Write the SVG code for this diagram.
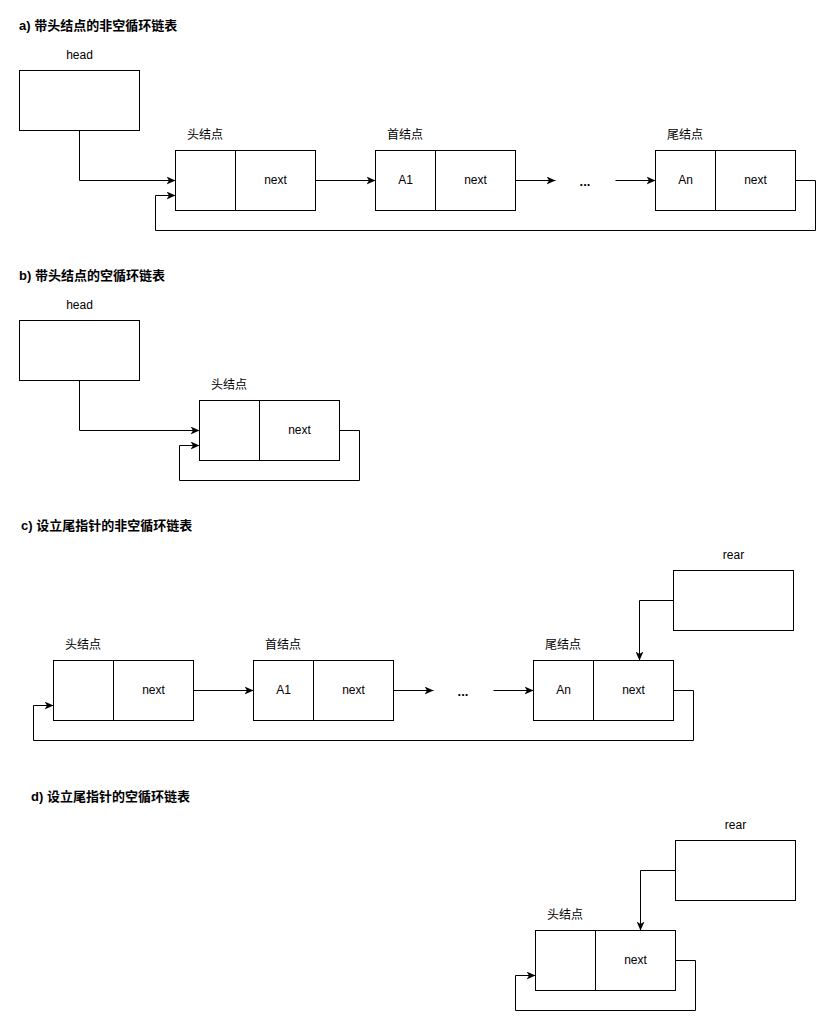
<svg xmlns="http://www.w3.org/2000/svg" width="834" height="1029" viewBox="0 0 834 1029">
<style>
.bg{fill:#ffffff}
.box{fill:#ffffff;stroke:#000000;stroke-width:1}
.ln{fill:none;stroke:#000000;stroke-width:1}
.t{font-family:"Liberation Sans","Noto Sans CJK SC",sans-serif;font-size:12px;fill:#000000;text-anchor:middle;dominant-baseline:central}
.title{font-family:"Liberation Sans","Noto Sans CJK SC",sans-serif;font-size:13px;font-weight:bold;fill:#000000;dominant-baseline:central}
.dots{font-family:"Liberation Sans",sans-serif;font-size:13px;font-weight:bold;fill:#000000;text-anchor:middle;dominant-baseline:central}
</style>
<defs>
<marker id="arr" markerUnits="userSpaceOnUse" viewBox="0 0 9 8" markerWidth="9" markerHeight="8" refX="9" refY="4" orient="auto">
<path d="M0,0 L9,4 L0,8 L2.5,4 Z" fill="#000000"/>
</marker>
</defs>
<rect class="bg" x="0" y="0" width="834" height="1029"/>

<!-- titles -->
<text class="title" x="19" y="25">a) 带头结点的非空循环链表</text>
<text class="title" x="19" y="275">b) 带头结点的空循环链表</text>
<text class="title" x="21" y="525">c) 设立尾指针的非空循环链表</text>
<text class="title" x="31" y="796">d) 设立尾指针的空循环链表</text>

<!-- section a -->
<g id="a-head">
<text class="t" x="79.5" y="55">head</text>
<rect class="box" x="19.5" y="70.5" width="120" height="60"/>
</g>
<g id="a-headnode">
<text class="t" x="205" y="134.5">头结点</text>
<rect class="box" x="175.5" y="150.5" width="140" height="60"/>
<line class="ln" x1="235.5" y1="150.5" x2="235.5" y2="210.5"/>
<text class="t" x="275.5" y="180">next</text>
</g>
<g id="a-first">
<text class="t" x="405" y="134.5">首结点</text>
<rect class="box" x="375.5" y="150.5" width="140" height="60"/>
<line class="ln" x1="435.5" y1="150.5" x2="435.5" y2="210.5"/>
<text class="t" x="405.5" y="180">A1</text>
<text class="t" x="475.5" y="180">next</text>
</g>
<g id="a-dots"><text class="dots" x="585" y="181">...</text></g>
<g id="a-tail">
<text class="t" x="685" y="134.5">尾结点</text>
<rect class="box" x="655.5" y="150.5" width="140" height="60"/>
<line class="ln" x1="715.5" y1="150.5" x2="715.5" y2="210.5"/>
<text class="t" x="685.5" y="180">An</text>
<text class="t" x="755.5" y="180">next</text>
</g>

<!-- section b -->
<g id="b-head">
<text class="t" x="79.5" y="305">head</text>
<rect class="box" x="19.5" y="320.5" width="120" height="60"/>
</g>
<g id="b-headnode">
<text class="t" x="229" y="384.5">头结点</text>
<rect class="box" x="199.5" y="400.5" width="140" height="60"/>
<line class="ln" x1="259.5" y1="400.5" x2="259.5" y2="460.5"/>
<text class="t" x="299.5" y="430">next</text>
</g>

<!-- section c -->
<g id="c-rear">
<text class="t" x="733.5" y="555">rear</text>
<rect class="box" x="673.5" y="570.5" width="120" height="60"/>
</g>
<g id="c-headnode">
<text class="t" x="83" y="644.5">头结点</text>
<rect class="box" x="53.5" y="660.5" width="140" height="60"/>
<line class="ln" x1="113.5" y1="660.5" x2="113.5" y2="720.5"/>
<text class="t" x="153.5" y="690">next</text>
</g>
<g id="c-first">
<text class="t" x="283" y="644.5">首结点</text>
<rect class="box" x="253.5" y="660.5" width="140" height="60"/>
<line class="ln" x1="313.5" y1="660.5" x2="313.5" y2="720.5"/>
<text class="t" x="283.5" y="690">A1</text>
<text class="t" x="353.5" y="690">next</text>
</g>
<g id="c-dots"><text class="dots" x="463" y="691">...</text></g>
<g id="c-tail">
<text class="t" x="563" y="644.5">尾结点</text>
<rect class="box" x="533.5" y="660.5" width="140" height="60"/>
<line class="ln" x1="593.5" y1="660.5" x2="593.5" y2="720.5"/>
<text class="t" x="563.5" y="690">An</text>
<text class="t" x="633.5" y="690">next</text>
</g>

<!-- section d -->
<g id="d-rear">
<text class="t" x="735.5" y="825">rear</text>
<rect class="box" x="675.5" y="840.5" width="120" height="60"/>
</g>
<g id="d-headnode">
<text class="t" x="565" y="914.5">头结点</text>
<rect class="box" x="535.5" y="930.5" width="140" height="60"/>
<line class="ln" x1="595.5" y1="930.5" x2="595.5" y2="990.5"/>
<text class="t" x="635.5" y="960">next</text>
</g>

<!-- connectors -->
<g id="connectors">
<path class="ln" d="M79.5,130.5 V180.5 H175.5" marker-end="url(#arr)"/>
<path class="ln" d="M315.5,180.5 H375.5" marker-end="url(#arr)"/>
<path class="ln" d="M515.5,180.5 H555.5" marker-end="url(#arr)"/>
<path class="ln" d="M615.5,180.5 H655.5" marker-end="url(#arr)"/>
<path class="ln" d="M795.5,180.5 H815.5 V230.5 H155.5 V195.5 H175.5" marker-end="url(#arr)"/>

<path class="ln" d="M79.5,380.5 V430.5 H199.5" marker-end="url(#arr)"/>
<path class="ln" d="M339.5,430.5 H359.5 V480.5 H179.5 V445.5 H199.5" marker-end="url(#arr)"/>

<path class="ln" d="M673.5,600.5 H639.5 V660.5" marker-end="url(#arr)"/>
<path class="ln" d="M193.5,690.5 H253.5" marker-end="url(#arr)"/>
<path class="ln" d="M393.5,690.5 H433.5" marker-end="url(#arr)"/>
<path class="ln" d="M493.5,690.5 H533.5" marker-end="url(#arr)"/>
<path class="ln" d="M673.5,690.5 H693.5 V740.5 H33.5 V705.5 H53.5" marker-end="url(#arr)"/>

<path class="ln" d="M675.5,870.5 H640.5 V930.5" marker-end="url(#arr)"/>
<path class="ln" d="M675.5,960.5 H695.5 V1010.5 H515.5 V975.5 H535.5" marker-end="url(#arr)"/>
</g>
</svg>
